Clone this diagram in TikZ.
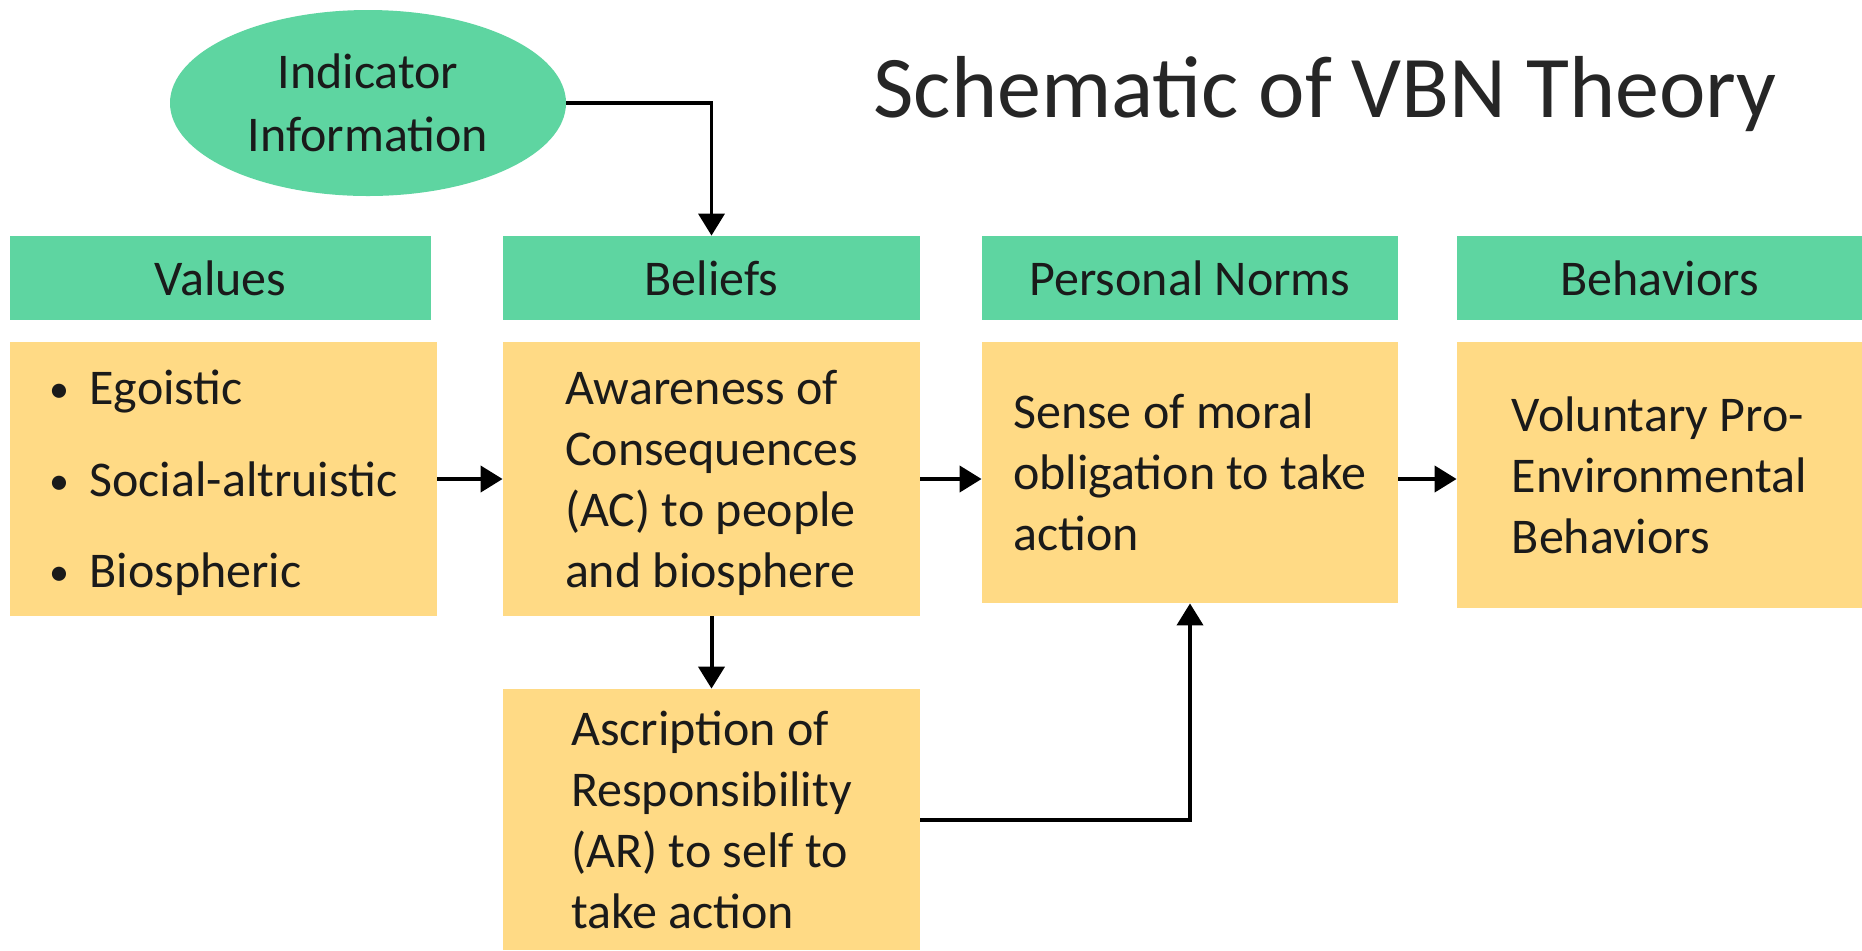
\documentclass[tikz,border=0pt]{standalone}
\usepackage{fontspec}
\setmainfont{Carlito}
\usetikzlibrary{arrows.meta,shapes.geometric}
\definecolor{hdrgreen}{HTML}{5ED5A1}
\definecolor{boxyellow}{HTML}{FFDA85}
\definecolor{txt}{HTML}{1A1A1A}
\definecolor{titlec}{HTML}{262626}
\tikzset{
  hdr/.style={rectangle, fill=hdrgreen, inner sep=0pt, text=txt, font=\fontsize{25}{30.5}\selectfont},
  content/.style={rectangle, fill=boxyellow, inner sep=0pt, text=txt, font=\fontsize{25}{30.5}\selectfont},
  conn/.style={line width=2pt, draw=black, -{Triangle[width=13pt,length=11pt]}},
  oval/.style={ellipse, fill=hdrgreen, inner sep=0pt, text=txt, align=center, font=\fontsize{25}{31.5}\selectfont}
}
\newcommand{\bul}{\makebox[20pt][l]{\raisebox{1pt}{\fontsize{20}{20}\selectfont\textbullet}}}
\newcommand{\lines}[2][-2.5pt]{\raisebox{#1}[\height][\depth]{\begin{tabular}{@{}l@{}}#2\end{tabular}}}
\begin{document}
\begin{tikzpicture}[x=0.5pt,y=-0.5pt]
\useasboundingbox (0,0) rectangle (1862,950);
\fill[white] (0,0) rectangle (1862,950);
% title
\node[anchor=base west, inner sep=0pt, text=titlec, font=\fontsize{44}{52}\selectfont] (title) at (873,117) {Schematic of VBN Theory};
% ellipse
\node[oval, minimum width=198pt, minimum height=93pt] (ell) at (368,103) {Indicator\\Information};
% headers
\node[hdr, minimum width=210.5pt, minimum height=42pt] (vh) at (220.5,278) {Values};
\node[hdr, minimum width=208.5pt, minimum height=42pt] (bh) at (711.5,278) {Beliefs};
\node[hdr, minimum width=208pt, minimum height=42pt] (ph) at (1190,278) {Personal Norms};
\node[hdr, minimum width=202.5pt, minimum height=42pt] (behh) at (1659.5,278) {Behaviors};
% contents
\node[content, minimum width=213.5pt, minimum height=137pt, font=\fontsize{25}{45.7}\selectfont] (vc) at (223.5,479)
  {\lines[0.5pt]{\bul Egoistic\\\bul Social-altruistic\\\bul Biospheric}};
\node[content, minimum width=208.5pt, minimum height=137pt] (bc) at (711.5,479)
  {\lines{Awareness of\\Consequences\\(AC) to people\\and biosphere}};
\node[content, minimum width=208pt, minimum height=130.5pt] (pc) at (1190,472.5)
  {\lines{Sense of moral\\obligation to take\\action}};
\node[content, minimum width=202.5pt, minimum height=133pt] (behc) at (1659.5,475)
  {\lines{Voluntary Pro-\\Environmental\\Behaviors}};
\node[content, minimum width=208.5pt, minimum height=130.5pt] (ac) at (711.5,819.5)
  {\lines{Ascription of\\Responsibility\\(AR) to self to\\take action}};
% connectors
\draw[conn, line width=1.8pt] (ell.east) -| (bh.north);
\draw[conn] (vc.east) -- (bc.west);
\draw[conn] (bc.east) -- (bc.east -| pc.west);
\draw[conn] (pc.east |- bc.east) -- (bc.east -| behc.west);
\draw[conn] (bc.south) -- (ac.north);
\draw[conn] (ac.east) -| (pc.south);
\end{tikzpicture}
\end{document}
